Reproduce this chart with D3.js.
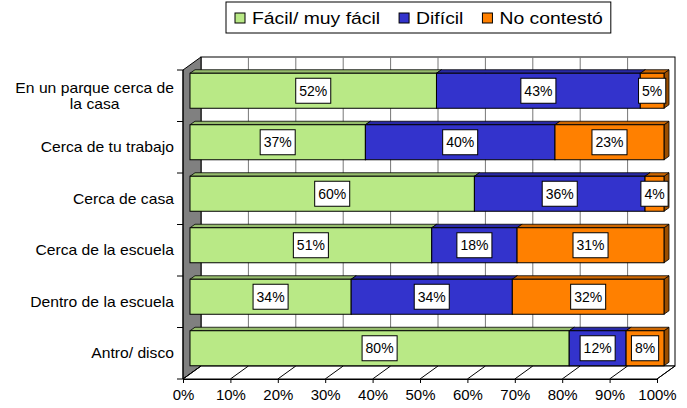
<!DOCTYPE html>
<html>
<head>
<meta charset="utf-8">
<script src="https://cdn.jsdelivr.net/npm/d3@7"></script>
<style>
  body { margin: 0; background: #fff; }
  svg { display: block; font-family: "Liberation Sans", Arial, sans-serif; }
</style>
</head>
<body>
<svg id="chart" width="687" height="408"></svg>
<script>
const categories = [
  'En un parque cerca de la casa',
  'Cerca de tu trabajo',
  'Cerca de casa',
  'Cerca de la escuela',
  'Dentro de la escuela',
  'Antro/ disco',
];
const categoryLines = [
  ['En un parque cerca de', 'la casa'],
  ['Cerca de tu trabajo'],
  ['Cerca de casa'],
  ['Cerca de la escuela'],
  ['Dentro de la escuela'],
  ['Antro/ disco'],
];
const seriesNames = ['Fácil/ muy fácil', 'Difícil', 'No contestó'];
const facil = [52, 37, 60, 51, 34, 80];
const dificil = [43, 40, 36, 18, 34, 12];
const noContesto = [5, 23, 4, 31, 32, 8];
const xTicks = [0, 10, 20, 30, 40, 50, 60, 70, 80, 90, 100];
const colors = ['#b9e986', '#3333cc', '#ff8000'];

const svg = d3.select('#chart');
const margin = { top: 70, right: 30, bottom: 29, left: 183 };
const height = 408;

// oblique depth of the walls and of the bars
const wall = { dx: 18, dy: -13 };
const barOff = { dx: 7, dy: -5 };
const barDepth = { dx: 5, dy: -3.5 };
const stretch = 1.12;

const x = d3.scaleLinear().domain([0, 100]).range([margin.left, 657]);
const y = d3
  .scaleBand()
  .domain(categories)
  .range([margin.top, height - margin.bottom])
  .paddingInner(0.32)
  .paddingOuter(0.16);
const y0 = margin.top;
const y1 = height - margin.bottom;

// back wall
svg
  .append('rect')
  .attr('x', x(0) + wall.dx)
  .attr('y', y0 + wall.dy)
  .attr('width', x(100) - x(0))
  .attr('height', y1 - y0)
  .attr('fill', '#fff')
  .attr('stroke', '#000')
  .attr('stroke-width', 1);

svg
  .append('g')
  .selectAll('line')
  .data(xTicks.slice(1, -1))
  .join('line')
  .attr('x1', (d) => x(d) + wall.dx)
  .attr('x2', (d) => x(d) + wall.dx)
  .attr('y1', y0 + wall.dy)
  .attr('y2', y1 + wall.dy)
  .attr('stroke', '#777')
  .attr('stroke-width', 1);

// side wall
svg
  .append('polygon')
  .attr(
    'points',
    [
      [x(0), y0],
      [x(0) + wall.dx, y0 + wall.dy],
      [x(0) + wall.dx, y1 + wall.dy],
      [x(0), y1],
    ].join(' ')
  )
  .attr('fill', '#808080')
  .attr('stroke', '#000')
  .attr('stroke-width', 1);

// floor
svg
  .append('polygon')
  .attr(
    'points',
    [
      [x(0), y1],
      [x(0) + wall.dx, y1 + wall.dy],
      [x(100) + wall.dx, y1 + wall.dy],
      [x(100), y1],
    ].join(' ')
  )
  .attr('fill', '#fff')
  .attr('stroke', '#000')
  .attr('stroke-width', 1);

svg
  .append('g')
  .selectAll('line')
  .data(xTicks)
  .join('line')
  .attr('x1', (d) => x(d))
  .attr('x2', (d) => x(d) + wall.dx)
  .attr('y1', y1)
  .attr('y2', y1 + wall.dy)
  .attr('stroke', '#000')
  .attr('stroke-width', 1);

// bars
const rows = categories.map((c, i) => {
  const vals = [facil[i], dificil[i], noContesto[i]];
  let cum = 0;
  return vals.map((v, s) => {
    const seg = { cat: c, s, v, start: cum, end: cum + v };
    cum += v;
    return seg;
  });
});

const bars = svg.append('g');
rows.forEach((segs) => {
  segs.forEach((d) => {
    const xa = x(d.start) + barOff.dx;
    const xb = x(d.end) + barOff.dx;
    const ya = y(d.cat) + barOff.dy;
    const yb = ya + y.bandwidth();
    const base = d3.color(colors[d.s]);
    const g = bars.append('g');
    g.append('polygon')
      .attr(
        'points',
        [
          [xb, ya],
          [xb + barDepth.dx, ya + barDepth.dy],
          [xb + barDepth.dx, yb + barDepth.dy],
          [xb, yb],
        ].join(' ')
      )
      .attr('fill', base.darker(1.4))
      .attr('stroke', '#000')
      .attr('stroke-width', 0.8);
    g.append('polygon')
      .attr(
        'points',
        [
          [xa, ya],
          [xa + barDepth.dx, ya + barDepth.dy],
          [xb + barDepth.dx, ya + barDepth.dy],
          [xb, ya],
        ].join(' ')
      )
      .attr('fill', base.darker(0.6))
      .attr('stroke', '#000')
      .attr('stroke-width', 0.8);
    g.append('rect')
      .attr('x', xa)
      .attr('y', ya)
      .attr('width', xb - xa)
      .attr('height', y.bandwidth())
      .attr('fill', colors[d.s])
      .attr('stroke', '#000')
      .attr('stroke-width', 1);
  });
});

// data labels
const labels = svg.append('g').attr('font-size', '14px');
rows.flat().forEach((d) => {
  const cx = (x(d.start) + x(d.end)) / 2 + barOff.dx;
  const cy = y(d.cat) + barOff.dy + y.bandwidth() / 2;
  const g = labels.append('g').attr('transform', `translate(${cx},${cy})`);
  const box = g.append('rect');
  const t = g
    .append('text')
    .attr('text-anchor', 'middle')
    .attr('y', 5)
    .attr('fill', '#000')
    .text(d.v + '%');
  const w = t.node().getComputedTextLength() + 7;
  box
    .attr('x', -w / 2)
    .attr('y', -12.5)
    .attr('width', w)
    .attr('height', 25)
    .attr('fill', '#fff')
    .attr('stroke', '#000')
    .attr('stroke-width', 1);
});

// x axis
const xAxis = (g) =>
  g
    .attr('transform', `translate(0,${y1})`)
    .call(
      d3
        .axisBottom(x)
        .tickValues(xTicks)
        .tickSize(4)
        .tickSizeOuter(0)
        .tickFormat((d) => d + '%')
    )
    .call((g) => g.select('.domain').attr('stroke', '#000'))
    .call((g) =>
      g
        .selectAll('text')
        .attr('y', 21)
        .attr('dy', 0)
        .attr('fill', '#000')
        .attr('font-size', '14px')
        .attr('font-family', '"Liberation Sans", Arial, sans-serif')
        .attr('transform', 'scale(1.07,1)')
    );
svg.append('g').call(xAxis);

// y axis with ticks at band edges
const edges = d3.range(categories.length + 1).map(
  (i) => y0 + (i * (y1 - y0)) / categories.length
);
const yAxis = svg.append('g');
yAxis
  .append('line')
  .attr('x1', x(0))
  .attr('x2', x(0))
  .attr('y1', y0)
  .attr('y2', y1)
  .attr('stroke', '#000');
yAxis
  .selectAll('.tick')
  .data(edges)
  .join('line')
  .attr('class', 'tick')
  .attr('x1', x(0) - 6)
  .attr('x2', x(0))
  .attr('y1', (d) => d)
  .attr('y2', (d) => d)
  .attr('stroke', '#000');

// category labels: lines centred on each other, block right-aligned
const labelRight = 174;
const catLabels = yAxis.append('g').attr('font-size', '14px').attr('fill', '#000');
categories.forEach((c, i) => {
  const lines = categoryLines[i];
  const cy = (edges[i] + edges[i + 1]) / 2;
  const lh = 16;
  const g = catLabels.append('g');
  const texts = lines.map((ln, k) =>
    g
      .append('text')
      .attr('text-anchor', 'middle')
      .attr('y', 5 + (k - (lines.length - 1) / 2) * lh)
      .text(ln)
  );
  const maxW = d3.max(texts, (t) => t.node().getComputedTextLength()) * stretch;
  g.attr(
    'transform',
    `translate(${labelRight - maxW / 2},${cy}) scale(${stretch},1)`
  );
});

// legend
const legend = svg.append('g').attr('font-size', '17px');
const legendBox = legend.append('rect');
const legendStretch = 1.14;
let lx = 235;
seriesNames.forEach((name, i) => {
  legend
    .append('rect')
    .attr('x', lx)
    .attr('y', 13)
    .attr('width', 10)
    .attr('height', 10)
    .attr('fill', colors[i])
    .attr('stroke', '#000')
    .attr('stroke-width', 1);
  const t = legend
    .append('text')
    .attr('transform', `translate(${lx + 17},24) scale(${legendStretch},1)`)
    .attr('fill', '#000')
    .text(name);
  lx += 17 + t.node().getComputedTextLength() * legendStretch + 19;
});
legendBox
  .attr('x', 226)
  .attr('y', 2)
  .attr('width', lx - 19 + 8 - 226)
  .attr('height', 31)
  .attr('fill', '#fff')
  .attr('stroke', '#000')
  .attr('stroke-width', 1);
</script>
</body>
</html>
